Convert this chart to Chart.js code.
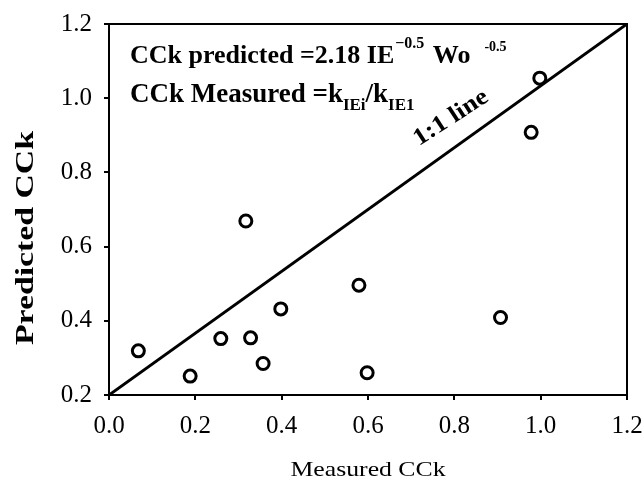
<!DOCTYPE html>
<html><head><meta charset="utf-8">
<script src="https://cdn.jsdelivr.net/npm/chart.js@4"></script>
<style>html,body{margin:0;padding:0;background:#fff}#w{width:643px;height:481px}</style>
</head><body><div id="w"><canvas id="c" width="643" height="481"></canvas></div>
<script>
const measured  = [0.068,0.188,0.259,0.328,0.357,0.398,0.579,0.598,0.907,0.317,0.998,0.978];
const predicted = [0.319,0.251,0.352,0.354,0.285,0.432,0.496,0.260,0.409,0.669,1.054,0.908];
const lineX = [0, 1.2];
const lineY = [0.2, 1.2];
const xTicks = [0, 0.2, 0.4, 0.6, 0.8, 1.0, 1.2];
const yTicks = [0.2, 0.4, 0.6, 0.8, 1.0, 1.2];
const xTitle = 'Measured CCk';
const yTitle = 'Predicted CCk';

const SERIF = '"Liberation Serif", "Times New Roman", serif';

const deco = {
  id: 'deco',
  afterDraw(chart) {
    const ctx = chart.ctx, a = chart.chartArea;
    ctx.save();
    ctx.strokeStyle = '#000';
    ctx.lineWidth = 2;
    ctx.strokeRect(a.left, a.top, a.right - a.left, a.bottom - a.top);
    ctx.fillStyle = '#000';
    ctx.textBaseline = 'alphabetic';
    ctx.textAlign = 'left';
    function runs(x, y, list) {
      for (const [t, s, dy, dx] of list) {
        x += (dx || 0);
        ctx.font = 'bold ' + s + 'px ' + SERIF;
        ctx.fillText(t, x, y + dy);
        x += ctx.measureText(t).width;
      }
    }
    runs(a.left + 21, a.top + 39, [
      ['CCk predicted =2.18 IE', 26, 0], ['\u22120.5', 16, -15, 1], [' Wo', 26, 0, 2], ['-0.5', 14, -12, 14]
    ]);
    runs(a.left + 21, a.top + 78, [
      ['CCk Measured =k', 27, 0], ['IEi', 17, 8], ['/k', 27, 0], ['IE1', 17, 8]
    ]);
    // 1:1 line label
    ctx.save();
    ctx.translate(451, 118);
    ctx.rotate(-33 * Math.PI / 180);
    ctx.scale(1.12, 1);
    ctx.textAlign = 'center';
    ctx.textBaseline = 'middle';
    ctx.font = 'bold 24px ' + SERIF;
    ctx.fillText('1:1 line', 0, 0);
    ctx.restore();
    // x title
    ctx.save();
    ctx.translate((a.left + a.right) / 2, 476);
    ctx.scale(1.17, 1);
    ctx.textAlign = 'center';
    ctx.textBaseline = 'alphabetic';
    ctx.font = '22px ' + SERIF;
    ctx.fillText(xTitle, 0, 0);
    ctx.restore();
    // y title
    ctx.save();
    ctx.translate(33, 238);
    ctx.rotate(-Math.PI / 2);
    ctx.scale(1.35, 1);
    ctx.textAlign = 'center';
    ctx.textBaseline = 'alphabetic';
    ctx.font = 'bold 25px ' + SERIF;
    ctx.fillText(yTitle, 0, 0);
    ctx.restore();
    ctx.restore();
  }
};

new Chart(document.getElementById('c'), {
  type: 'scatter',
  data: {
    datasets: [
      {
        type: 'line',
        data: lineX.map((x, i) => ({x, y: lineY[i]})),
        borderColor: '#000', borderWidth: 3, pointRadius: 0, fill: false, tension: 0
      },
      {
        data: measured.map((x, i) => ({x, y: predicted[i]})),
        pointRadius: 6, pointBorderWidth: 3, pointBorderColor: '#000',
        pointBackgroundColor: '#fff', showLine: false
      }
    ]
  },
  options: {
    responsive: false, animation: false, devicePixelRatio: 1,
    layout: { padding: { left: 0, right: 16, top: 24, bottom: 0 } },
    plugins: { legend: { display: false }, tooltip: { enabled: false } },
    scales: {
      x: {
        type: 'linear', min: 0, max: 1.2,
        afterBuildTicks: s => { s.ticks = xTicks.map(v => ({value: v})); },
        afterFit: s => { s.height = 86; s.paddingLeft = 0; s.paddingRight = 0; },
        ticks: { color: '#000', font: { family: SERIF, size: 25 }, padding: 11,
                 callback: v => Number(v).toFixed(1), maxRotation: 0 },
        grid: { display: true, drawOnChartArea: false, color: '#000', tickLength: 5, lineWidth: 2 },
        border: { display: true, color: '#000', width: 2 }
      },
      y: {
        type: 'linear', min: 0.2, max: 1.2,
        afterBuildTicks: s => { s.ticks = yTicks.map(v => ({value: v})); },
        afterFit: s => { s.width = 109; s.paddingTop = 0; s.paddingBottom = 0; },
        ticks: { color: '#000', font: { family: SERIF, size: 25 }, padding: 12,
                 callback: v => Number(v).toFixed(1) },
        grid: { display: true, drawOnChartArea: false, color: '#000', tickLength: 5, lineWidth: 2 },
        border: { display: true, color: '#000', width: 2 }
      }
    }
  },
  plugins: [deco]
});
</script></body></html>
